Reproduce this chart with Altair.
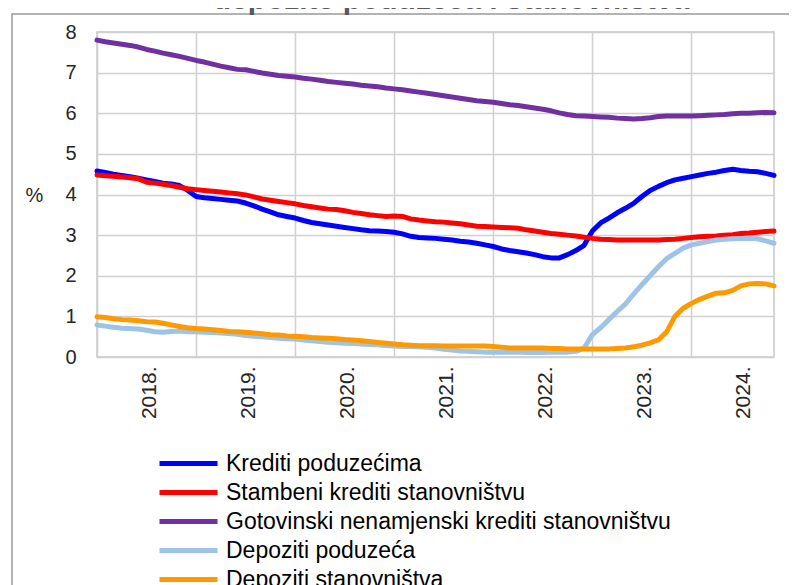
import altair as alt
import pandas as pd

# ---------------- data ----------------
months = [f"{y}-{m:02d}" for y in range(2018, 2025) for m in range(1, 13)][:83]

series_names = [
    "Krediti poduzećima",
    "Stambeni krediti stanovništvu",
    "Gotovinski nenamjenski krediti stanovništvu",
    "Depoziti poduzeća",
    "Depoziti stanovništva",
]
series_colors = ["#0000FF", "#FF0000", "#7030A0", "#9DC3E6", "#FF9900"]

krediti_poduzecima = [
    4.58, 4.54, 4.50, 4.47, 4.44, 4.40, 4.36, 4.32, 4.28, 4.26, 4.22, 4.10,
    3.95, 3.92, 3.90, 3.88, 3.86, 3.84, 3.79, 3.72, 3.64, 3.57, 3.50, 3.46,
    3.42, 3.36, 3.31, 3.28, 3.25, 3.22, 3.19, 3.16, 3.13, 3.11, 3.10, 3.09,
    3.07, 3.03, 2.97, 2.94, 2.93, 2.92, 2.90, 2.88, 2.85, 2.83, 2.80, 2.76,
    2.72, 2.66, 2.62, 2.59, 2.56, 2.52, 2.47, 2.44, 2.44, 2.52, 2.62, 2.75,
    3.10, 3.30, 3.42, 3.55, 3.66, 3.78, 3.95, 4.10, 4.20, 4.29, 4.36, 4.40,
    4.44, 4.48, 4.52, 4.55, 4.59, 4.62, 4.59, 4.57, 4.56, 4.52, 4.47,
]
stambeni = [
    4.48, 4.46, 4.45, 4.43, 4.41, 4.39, 4.30, 4.28, 4.25, 4.22, 4.18, 4.14,
    4.12, 4.10, 4.08, 4.06, 4.04, 4.02, 3.99, 3.94, 3.89, 3.86, 3.83, 3.80,
    3.77, 3.73, 3.70, 3.67, 3.64, 3.63, 3.60, 3.56, 3.53, 3.50, 3.48, 3.46,
    3.47, 3.46, 3.40, 3.37, 3.35, 3.33, 3.32, 3.30, 3.28, 3.25, 3.22, 3.21,
    3.20, 3.19, 3.18, 3.17, 3.13, 3.10, 3.07, 3.04, 3.02, 3.00, 2.98, 2.95,
    2.92, 2.90, 2.89, 2.88, 2.88, 2.88, 2.88, 2.88, 2.88, 2.89, 2.90, 2.92,
    2.94, 2.96, 2.97, 2.98, 3.00, 3.01, 3.04, 3.05, 3.07, 3.09, 3.10,
]
gotovinski = [
    7.80, 7.76, 7.73, 7.70, 7.67, 7.63, 7.57, 7.53, 7.48, 7.44, 7.40, 7.35,
    7.30, 7.26, 7.21, 7.16, 7.12, 7.08, 7.07, 7.03, 6.99, 6.96, 6.93, 6.91,
    6.89, 6.86, 6.84, 6.81, 6.78, 6.76, 6.74, 6.72, 6.69, 6.67, 6.65, 6.62,
    6.60, 6.58, 6.55, 6.52, 6.49, 6.46, 6.43, 6.40, 6.37, 6.34, 6.31, 6.29,
    6.27, 6.24, 6.21, 6.19, 6.16, 6.13, 6.10, 6.06, 6.01, 5.97, 5.94, 5.93,
    5.92, 5.91, 5.90, 5.88, 5.87, 5.86, 5.87, 5.89, 5.92, 5.93, 5.93, 5.93,
    5.93, 5.94, 5.95, 5.96, 5.97, 5.99, 6.00, 6.00, 6.01, 6.02, 6.01,
]
depoziti_poduzeca = [
    0.79, 0.76, 0.73, 0.71, 0.70, 0.69, 0.66, 0.62, 0.61, 0.63, 0.64, 0.62,
    0.62, 0.61, 0.60, 0.59, 0.58, 0.56, 0.53, 0.51, 0.50, 0.48, 0.46, 0.45,
    0.44, 0.42, 0.40, 0.38, 0.36, 0.35, 0.34, 0.33, 0.32, 0.31, 0.30, 0.28,
    0.27, 0.26, 0.26, 0.25, 0.24, 0.22, 0.19, 0.17, 0.15, 0.14, 0.13, 0.12,
    0.12, 0.12, 0.12, 0.12, 0.11, 0.11, 0.11, 0.12, 0.12, 0.12, 0.14, 0.22,
    0.55, 0.72, 0.92, 1.12, 1.30, 1.55, 1.78, 2.00, 2.22, 2.42, 2.55, 2.68,
    2.76, 2.80, 2.84, 2.88, 2.90, 2.91, 2.92, 2.92, 2.91, 2.86, 2.80,
]
depoziti_stanovnistva = [
    0.99, 0.97, 0.94, 0.92, 0.91, 0.89, 0.87, 0.86, 0.83, 0.79, 0.75, 0.72,
    0.70, 0.69, 0.67, 0.65, 0.63, 0.62, 0.61, 0.59, 0.57, 0.55, 0.54, 0.52,
    0.51, 0.50, 0.48, 0.47, 0.46, 0.45, 0.43, 0.42, 0.40, 0.38, 0.36, 0.34,
    0.32, 0.30, 0.29, 0.28, 0.28, 0.28, 0.27, 0.27, 0.27, 0.27, 0.27, 0.27,
    0.26, 0.24, 0.22, 0.22, 0.22, 0.22, 0.22, 0.21, 0.21, 0.20, 0.20, 0.20,
    0.20, 0.20, 0.20, 0.21, 0.22, 0.25, 0.29, 0.35, 0.42, 0.62, 1.00, 1.20,
    1.32, 1.42, 1.50, 1.57, 1.58, 1.64, 1.75, 1.80, 1.81, 1.80, 1.75,
]

year_ticks = [0, 12, 24, 36, 48, 60, 72]
y_ticks = [0, 1, 2, 3, 4, 5, 6, 7, 8]
title_text = "depozite poduzeća i stanovništva"

all_series = [krediti_poduzecima, stambeni, gotovinski,
              depoziti_poduzeca, depoziti_stanovnistva]
rows = []
for name, vals in zip(series_names, all_series):
    for k, (mo, v) in enumerate(zip(months, vals)):
        rows.append({"t": k, "mjesec": mo, "serija": name, "v": v})
df = pd.DataFrame(rows)

FONT = "Liberation Sans"

# ---------------- chart ----------------
lines = alt.Chart(df).mark_line(
    strokeWidth=5, strokeCap="round", strokeJoin="round"
).encode(
    x=alt.X(
        "t:Q",
        scale=alt.Scale(domain=[0, 82], nice=False, zero=False),
        axis=alt.Axis(
            values=year_ticks,
            labelExpr="(2018 + datum.value / 12) + '.'",
            labelAngle=270,
            labelOffset=52,
            labelPadding=9,
            ticks=False,
            tickSize=0,
            domain=False,
            grid=True,
            title=None,
            labelFontSize=21,
            labelColor="#262626",
            labelOverlap=False,
            labelFlush=False,
        ),
    ),
    y=alt.Y(
        "v:Q",
        scale=alt.Scale(domain=[0, 8], nice=False),
        axis=alt.Axis(
            values=y_ticks,
            title="%",
            titleAngle=0,
            titleX=-63,
            titleY=163,
            titleAlign="center",
            titleBaseline="middle",
            titleFontSize=20,
            titleFontWeight="normal",
            titleColor="#262626",
            labelPadding=21,
            ticks=False,
            tickSize=0,
            domain=False,
            labelFontSize=20,
            labelColor="#262626",
        ),
    ),
    color=alt.Color(
        "serija:N",
        scale=alt.Scale(domain=series_names, range=series_colors),
        legend=alt.Legend(
            title=None,
            orient="none",
            legendX=79,
            legendY=419,
            direction="vertical",
            symbolType="M-2.9,0L2.9,0",
            symbolSize=400,
            symbolStrokeWidth=5,
            labelFontSize=23,
            labelFont=FONT,
            labelColor="#000000",
            labelOffset=25,
            labelLimit=700,
            rowPadding=4,
            padding=0,
        ),
    ),
)

frame = alt.Chart(pd.DataFrame({"f": [0]})).mark_rect(
    fillOpacity=0, stroke="#9a9a9a", strokeWidth=1.5
).encode(
    x=alt.value(-85), y=alt.value(-18), x2=alt.value(720), y2=alt.value(620)
)

title_layer = alt.Chart(pd.DataFrame({"title": [title_text]})).mark_text(
    font=FONT, fontSize=30, fontWeight="bold", color="#595959",
    align="center", baseline="alphabetic"
).encode(
    text="title:N", x=alt.value(354), y=alt.value(-23)
)

chart = alt.layer(frame, lines, title_layer).properties(
    width=677,
    height=325,
    padding={"left": 89, "top": 24, "right": 15, "bottom": 228},
    autosize=alt.AutoSizeParams(type="none"),
).configure_view(
    stroke="#c8c8c8", strokeWidth=1.5
).configure_axis(
    gridColor="#d0d0d0", gridWidth=1.5, labelFont=FONT, titleFont=FONT
)

chart.save("out.html", embed_options={"renderer": "svg", "actions": False})
